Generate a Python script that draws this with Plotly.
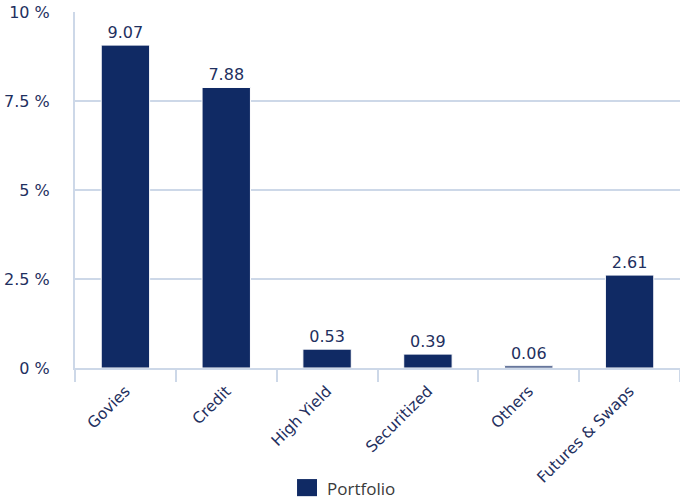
import plotly.graph_objects as go

categories = ["Govies", "Credit", "High Yield", "Securitized", "Others", "Futures & Swaps"]
portfolio = [9.07, 7.88, 0.53, 0.39, 0.06, 2.61]
y_ticks = [0, 2.5, 5, 7.5, 10]
y_tick_labels = ["0 %", "2.5 %", "5 %", "7.5 %", "10 %"]
series_name = "Portfolio"

navy = "#102a64"
text_col = "#1f3060"
grid_col = "#cdd8e8"
font_family = "Verdana, DejaVu Sans, sans-serif"

fig = go.Figure()
fig.add_trace(go.Bar(
    x=categories,
    y=portfolio,
    name=series_name,
    marker=dict(color=navy, line=dict(color="white", width=1)),
    text=[f"{v:.2f}" for v in portfolio],
    textposition="outside",
    textfont=dict(family=font_family, size=16, color=text_col),
    cliponaxis=False,
    showlegend=False,
))

# Legend key drawn below the axis: a square swatch and the series name
fig.add_shape(
    type="rect", xref="paper", yref="paper",
    x0=0.367, x1=0.400, y0=-0.312, y1=-0.360,
    fillcolor=navy, line=dict(width=0),
)
fig.add_annotation(
    xref="paper", yref="paper", x=0.413, y=-0.338,
    xanchor="left", yanchor="middle", showarrow=False,
    text=series_name,
    font=dict(family="Open Sans, sans-serif", size=17, color="#3a3a3a"),
)

fig.update_layout(
    width=680,
    height=502,
    margin=dict(l=75, r=0, t=12, b=134),
    plot_bgcolor="white",
    paper_bgcolor="white",
    bargap=0.52,
    showlegend=False,
    xaxis=dict(
        tickson="boundaries",
        ticks="outside",
        ticklen=12,
        tickcolor=grid_col,
        tickwidth=2,
        showline=True,
        linecolor=grid_col,
        linewidth=2,
        tickangle=-45,
        ticklabelstandoff=6,
        tickfont=dict(family=font_family, size=15.5, color=text_col),
        showgrid=False,
    ),
    yaxis=dict(
        range=[0, 10],
        tickvals=y_ticks,
        ticktext=y_tick_labels,
        showgrid=True,
        gridcolor=grid_col,
        gridwidth=1.5,
        showline=True,
        linecolor=grid_col,
        linewidth=2,
        zeroline=False,
        ticks="",
        ticklabelstandoff=20,
        tickfont=dict(family=font_family, size=16, color=text_col),
    ),
)

fig.write_html("out.html")
